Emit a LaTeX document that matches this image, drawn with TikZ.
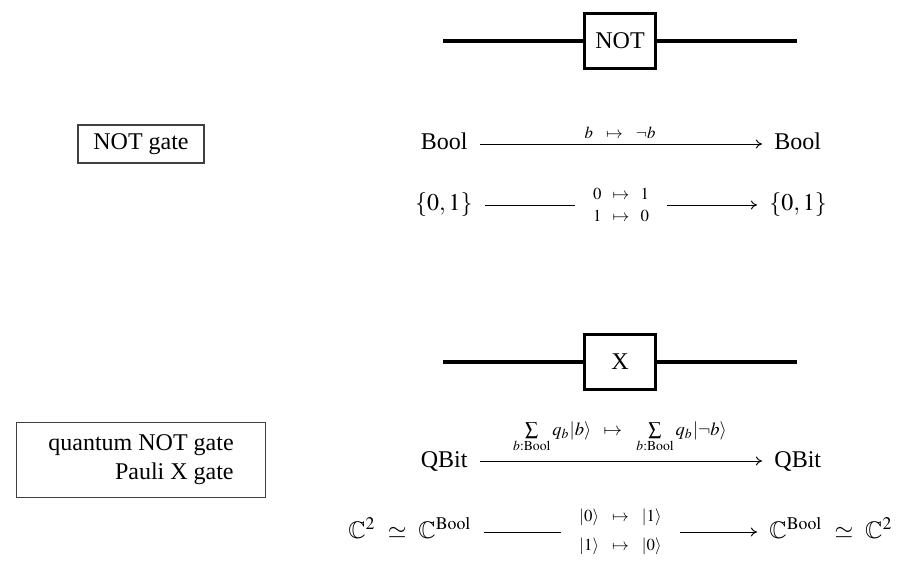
\documentclass[tikz,border=0pt]{standalone}
\usepackage{amssymb}
\usepackage{mathptmx}
\usepackage{fontspec}
\setmainfont{Liberation Serif}
\usetikzlibrary{arrows.meta}
\begin{document}
\begin{tikzpicture}[x=0.41667pt,y=-0.41667pt,
  wire/.style={line width=1.6pt},
  gatebox/.style={draw,line width=1.15pt,minimum width=29.8pt,minimum height=23pt,inner sep=0pt,fill=white},
  namebox/.style={draw=black!75,line width=0.5pt,inner sep=0pt,align=right},
  obj/.style={inner xsep=5pt,inner ysep=1pt},
  map/.style={-{Computer Modern Rightarrow[length=2.6pt,width=3.8pt]},line width=0.4pt},
  lbl/.style={font=\fontsize{7}{10}\selectfont,inner sep=0pt},
  desc/.style={fill=white,inner xsep=7.5pt,inner ysep=1pt,align=center,font=\fontsize{7}{9.2}\selectfont},
]
\useasboundingbox (0,0) rectangle (907,575);

% classical gate
\node[gatebox] (notg) at (620,41) {NOT};
\coordinate (w1l) at (443,41);
\coordinate (w1r) at (797,41);
\draw[wire] (w1l) -- (notg.west);
\draw[wire] (notg.east) -- (w1r);

\node[namebox,minimum width=52.5pt,minimum height=15.8pt] (name1) at (141,144) {NOT gate};

\node[obj,anchor=base east] (b1) at (480,150) {Bool};
\node[obj,anchor=base west] (b2) at (762,150) {Bool};
\draw[map] ([yshift=2.5pt]b1.base east) -- ([yshift=2.5pt]b2.base west);
\node[lbl,anchor=base] (l1) at (620,138) {$b\mskip10mu\mapsto\mskip10mu\neg b$};

\node[obj,anchor=base east] (s1) at (485,211) {$\{0,1\}$};
\node[obj,anchor=base west] (s2) at (757,211) {$\{0,1\}$};
\draw[map] ([yshift=2.5pt]s1.base east) -- node[desc] (l2) {$0\mskip8mu\mapsto\mskip8mu 1$\\$1\mskip8mu\mapsto\mskip8mu 0$} ([yshift=2.5pt]s2.base west);

% quantum gate
\node[gatebox] (xg) at (620,362) {X};
\coordinate (w2l) at (443,362);
\coordinate (w2r) at (797,362);
\draw[wire] (w2l) -- (xg.west);
\draw[wire] (xg.east) -- (w2r);

\node[namebox,minimum width=104pt,minimum height=31.25pt] (name2) at (141,460) {quantum NOT gate\\Pauli X gate};

\node[obj,anchor=base east] (q1) at (480,467) {QBit};
\node[obj,anchor=base west] (q2) at (762,467) {QBit};
\draw[map] ([yshift=2.5pt]q1.base east) -- ([yshift=2.5pt]q2.base west);
\node[lbl,font=\fontsize{7.7}{10}\selectfont,anchor=base] (l3) at (620,435) {$\sum\limits_{b:\mathrm{Bool}} q_b|b\rangle\mskip8mu\mapsto\mskip10mu\sum\limits_{b:\mathrm{Bool}} q_b|\neg b\rangle$};

\node[obj,anchor=base east] (c1) at (484,538) {$\mathbb{C}^2\mskip5mu\simeq\mskip5mu\mathbb{C}^{\mathrm{Bool}}$};
\node[obj,anchor=base west] (c2) at (757,538) {$\mathbb{C}^{\mathrm{Bool}}\mskip5mu\simeq\mskip5mu\mathbb{C}^2$};
\draw[map] ([yshift=2.5pt]c1.base east) -- node[desc,font=\fontsize{7}{12}\selectfont] (l4) {$|0\rangle\mskip10mu\mapsto\mskip10mu|1\rangle$\\$|1\rangle\mskip10mu\mapsto\mskip10mu|0\rangle$} ([yshift=2.5pt]c2.base west);
\end{tikzpicture}
\end{document}
